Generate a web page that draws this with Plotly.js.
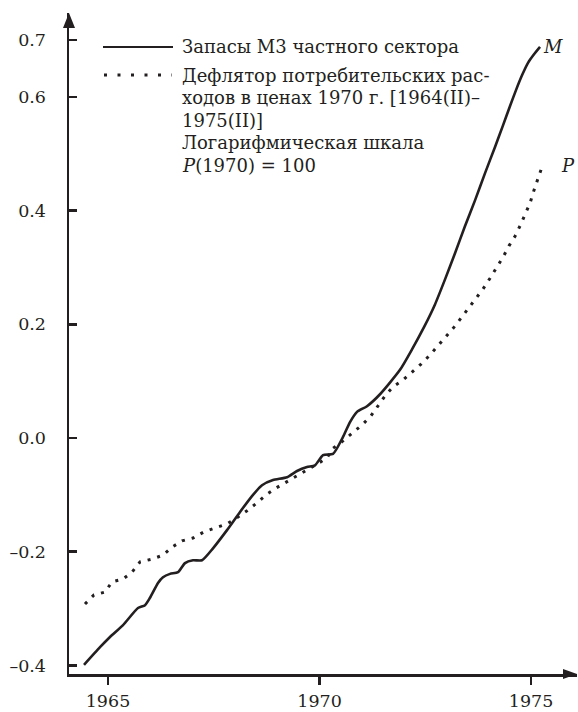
<!DOCTYPE html>
<html>
<head>
<meta charset="utf-8">
<script src="https://cdn.plot.ly/plotly-3.0.1.min.js"></script>
<style>html,body{margin:0;padding:0;background:#fff;}#chart{width:578px;height:712px;}</style>
</head>
<body>
<div id="chart"></div>
<script>
// M3 money stock (log scale), years
var mYears = [1964.433,1964.811,1965.047,1965.355,1965.709,1965.875,1965.993,1966.182,1966.300,1966.466,1966.655,1966.820,1967.009,1967.222,1967.482,1967.813,1968.121,1968.428,1968.641,1968.901,1969.232,1969.468,1969.704,1969.894,1970.083,1970.319,1970.556,1970.721,1970.887,1971.123,1971.430,1971.903,1972.187,1972.470,1972.730,1972.967,1973.203,1973.440,1973.676,1973.913,1974.149,1974.338,1974.504,1974.645,1974.787,1974.929,1975.071,1975.213];
var mValues = [-0.399,-0.368,-0.350,-0.329,-0.299,-0.294,-0.281,-0.255,-0.245,-0.239,-0.236,-0.220,-0.215,-0.215,-0.194,-0.162,-0.130,-0.100,-0.083,-0.074,-0.069,-0.058,-0.051,-0.048,-0.030,-0.028,0.002,0.028,0.046,0.056,0.077,0.120,0.156,0.195,0.235,0.279,0.325,0.373,0.418,0.466,0.512,0.550,0.584,0.612,0.638,0.660,0.675,0.688];
// Consumer expenditure deflator (log scale)
var pYears = [1964.456,1964.669,1964.929,1965.095,1965.355,1965.567,1965.757,1966.040,1966.300,1966.513,1966.749,1967.009,1967.270,1967.553,1967.813,1968.073,1968.286,1968.522,1968.735,1968.972,1969.232,1969.468,1969.704,1969.941,1970.177,1970.319,1970.556,1970.792,1971.005,1971.217,1971.383,1971.548,1971.738,1971.974,1972.187,1972.400,1972.612,1972.801,1972.991,1973.180,1973.345,1973.534,1973.700,1973.865,1974.031,1974.196,1974.338,1974.480,1974.622,1974.740,1974.858,1974.976,1975.071,1975.165,1975.260];
var pValues = [-0.292,-0.276,-0.271,-0.253,-0.248,-0.236,-0.218,-0.213,-0.206,-0.192,-0.181,-0.176,-0.165,-0.158,-0.151,-0.139,-0.128,-0.114,-0.100,-0.088,-0.077,-0.067,-0.056,-0.046,-0.035,-0.018,-0.005,0.009,0.023,0.039,0.056,0.074,0.090,0.102,0.116,0.130,0.146,0.162,0.178,0.195,0.211,0.229,0.246,0.262,0.281,0.301,0.318,0.338,0.355,0.373,0.392,0.413,0.436,0.457,0.477];

var xTickVals = [1965, 1970, 1975];
var xTickText = ['1965', '1970', '1975'];
var yTickVals = [-0.4, -0.2, 0.0, 0.2, 0.4, 0.6, 0.7];
var yTickText = ['\u20130.4', '\u20130.2', '0.0', '0.2', '0.4', '0.6', '0.7'];

var legendM = 'Запасы М3 частного сектора';
var legendPLines = ['Дефлятор потребительских рас-', 'ходов в ценах 1970 г. [1964(II)–', '1975(II)]', 'Логарифмическая шкала', '<i>P</i>(1970) = 100'];

var ink = '#231f20';
var fnt = {family: 'DejaVu Serif, serif', size: 17.5, color: ink};
var lfnt = {family: 'DejaVu Serif, serif', size: 18, color: ink};

var traces = [
  {x: mYears, y: mValues, type: 'scatter', mode: 'lines', name: 'M',
   line: {color: ink, width: 2.6, shape: 'spline', smoothing: 0.6}, hoverinfo: 'skip'},
  {x: pYears, y: pValues, type: 'scatter', mode: 'lines', name: 'P',
   line: {color: ink, width: 3, dash: '3px,7px'}, hoverinfo: 'skip'}
];

var W = 508, H = 661;
var annotations = [
  {xref: 'paper', yref: 'paper', x: (180 - 69) / W, y: (674 - 47) / H, xanchor: 'left', yanchor: 'middle',
   text: legendM, showarrow: false, align: 'left', font: lfnt},
  {xref: 'x', yref: 'y', x: 1975.52, y: 0.688, xanchor: 'center', yanchor: 'middle',
   text: '<i>M</i>', showarrow: false, font: lfnt},
  {xref: 'x', yref: 'y', x: 1975.87, y: 0.480, xanchor: 'center', yanchor: 'middle',
   text: '<i>P</i>', showarrow: false, font: lfnt}
];
legendPLines.forEach(function (t, i) {
  annotations.push({xref: 'paper', yref: 'paper', x: (180 - 69) / W, y: (674 - (75 + 22.5 * i)) / H,
    xanchor: 'left', yanchor: 'middle', text: t, showarrow: false, align: 'left', font: lfnt});
});

var layout = {
  width: 578, height: 712,
  margin: {l: 69, r: 1, t: 13, b: 38, pad: 0},
  paper_bgcolor: '#fff', plot_bgcolor: '#fff',
  showlegend: false,
  font: fnt,
  xaxis: {
    range: [1964.078, 1976.087], showgrid: false, zeroline: false,
    showline: true, linecolor: ink, linewidth: 2.5,
    tickmode: 'array', tickvals: xTickVals, ticktext: xTickText,
    ticks: 'outside', ticklen: 8, tickwidth: 2.5, tickcolor: ink,
    ticklabelstandoff: 1, tickfont: fnt
  },
  yaxis: {
    range: [-0.4151, 0.7476], showgrid: false, zeroline: false,
    showline: true, linecolor: ink, linewidth: 2.5,
    tickmode: 'array', tickvals: yTickVals, ticktext: yTickText,
    ticks: 'inside', ticklen: 8, tickwidth: 2.5, tickcolor: ink,
    ticklabelstandoff: 17, tickfont: fnt
  },
  shapes: [
    {type: 'path', xref: 'paper', yref: 'paper', fillcolor: ink, line: {width: 0},
     path: 'M 1 0 L ' + (1 - 14 / W) + ' ' + (5 / H) + ' L ' + (1 - 14 / W) + ' ' + (-5 / H) + ' Z'},
    {type: 'path', xref: 'paper', yref: 'paper', fillcolor: ink, line: {width: 0},
     path: 'M 0 1 L ' + (-6 / W) + ' ' + (1 - 15 / H) + ' L ' + (6 / W) + ' ' + (1 - 15 / H) + ' Z'},
    {type: 'line', xref: 'paper', yref: 'paper', x0: (103 - 69) / W, x1: (173 - 69) / W,
     y0: (674 - 47) / H, y1: (674 - 47) / H, line: {color: ink, width: 2.2}},
    {type: 'line', xref: 'paper', yref: 'paper', x0: (104 - 69) / W, x1: (172 - 69) / W,
     y0: (674 - 75) / H, y1: (674 - 75) / H, line: {color: ink, width: 3, dash: '3px,10.5px'}}
  ],
  annotations: annotations
};

Plotly.newPlot('chart', traces, layout, {staticPlot: true, displayModeBar: false});
</script>
</body>
</html>
